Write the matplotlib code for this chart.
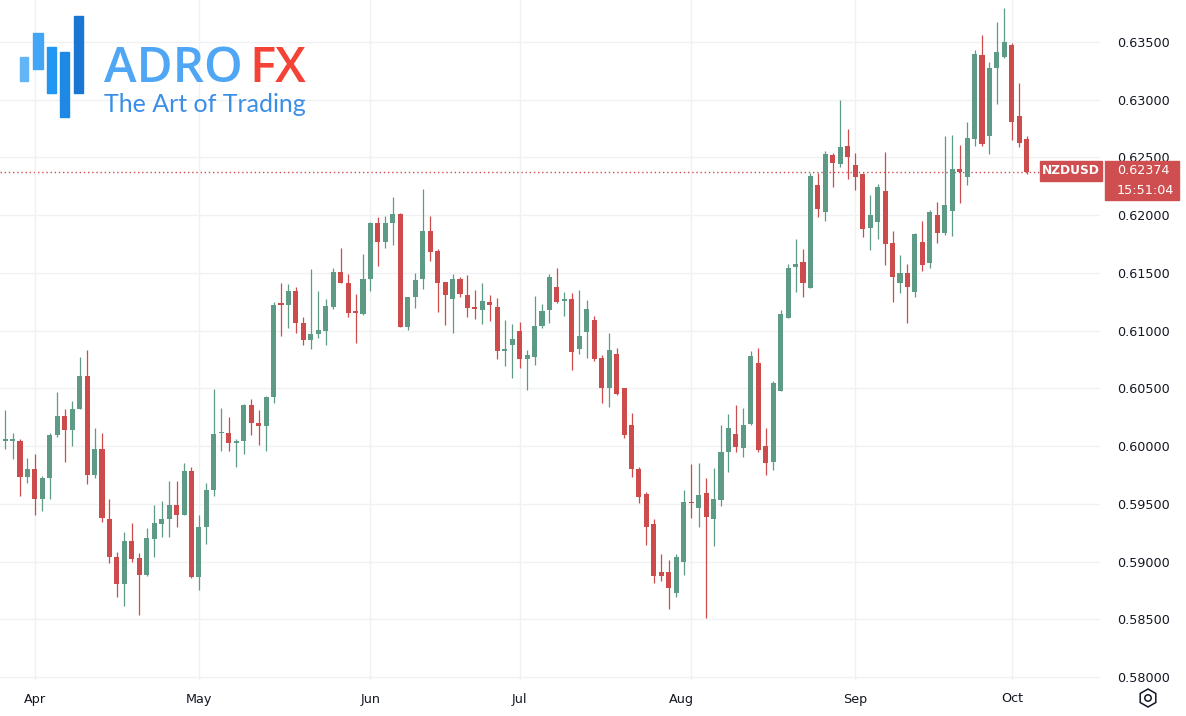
import matplotlib.pyplot as plt
import numpy as np
import pandas as pd
from matplotlib.patches import Rectangle, RegularPolygon, Circle
from matplotlib.transforms import IdentityTransform, ScaledTranslation

# NZDUSD daily candles, 25 Mar 2024 - 3 Oct 2024
dates = pd.bdate_range('2024-03-25', '2024-10-03')

opens = [0.59937, 0.60046, 0.60048, 0.60043, 0.59735, 0.59798, 0.59539, 0.59721, 0.60093, 0.60260,
         0.60139, 0.60321, 0.60607, 0.59747, 0.59975, 0.59368, 0.59039, 0.58808, 0.59175, 0.59030,
         0.58883, 0.59198, 0.59325, 0.59365, 0.59492, 0.59401, 0.59784, 0.58869, 0.59302, 0.59619,
         0.60110, 0.60110, 0.60029, 0.60043, 0.60356, 0.60203, 0.60174, 0.60422, 0.61237, 0.61226,
         0.61346, 0.61063, 0.60919, 0.60971, 0.60999, 0.61207, 0.61505, 0.61412, 0.61161, 0.61144,
         0.61445, 0.61930, 0.61770, 0.61930, 0.62007, 0.61034, 0.61288, 0.61445, 0.61863, 0.61690,
         0.61421, 0.61271, 0.61445, 0.61309, 0.61202, 0.61179, 0.61248, 0.61202, 0.60826, 0.60878,
         0.60997, 0.60757, 0.60774, 0.61040, 0.61179, 0.61375, 0.61259, 0.61271, 0.60838, 0.60991,
         0.61092, 0.60766, 0.60501, 0.60795, 0.60501, 0.60183, 0.59798, 0.59585, 0.59325, 0.58907,
         0.58912, 0.58725, 0.58998, 0.59518, 0.59466, 0.59591, 0.59368, 0.59533, 0.59951, 0.60104,
         0.59981, 0.60191, 0.60722, 0.60001, 0.59864, 0.60480, 0.61107, 0.61548, 0.61595, 0.61372,
         0.62261, 0.62030, 0.62521, 0.62443, 0.62599, 0.62435, 0.62357, 0.61886, 0.61943, 0.62212,
         0.61756, 0.61410, 0.61502, 0.61337, 0.61770, 0.61586, 0.62001, 0.61848, 0.62039, 0.62397,
         0.62333, 0.62657, 0.63387, 0.62686, 0.63277, 0.63367, 0.63474, 0.62859, 0.62657]

highs = [0.60087, 0.60312, 0.60110, 0.60064, 0.59897, 0.59931, 0.59741, 0.60116, 0.60469, 0.60319,
         0.60390, 0.60769, 0.60832, 0.60154, 0.60110, 0.59541, 0.59080, 0.59256, 0.59336, 0.59071,
         0.59290, 0.59487, 0.59524, 0.59697, 0.59700, 0.59850, 0.59821, 0.59403, 0.59683, 0.60494,
         0.60327, 0.60254, 0.60061, 0.60360, 0.60405, 0.60312, 0.60434, 0.61250, 0.61410, 0.61404,
         0.61380, 0.61115, 0.61531, 0.61343, 0.61271, 0.61540, 0.61713, 0.61488, 0.61317, 0.61661,
         0.61938, 0.61987, 0.61993, 0.62160, 0.62016, 0.61294, 0.61502, 0.62224, 0.61993, 0.61704,
         0.61421, 0.61490, 0.61462, 0.61486, 0.61352, 0.61410, 0.61311, 0.61285, 0.61092, 0.61057,
         0.61077, 0.60832, 0.61300, 0.61231, 0.61490, 0.61540, 0.61332, 0.61323, 0.61352, 0.61265,
         0.61127, 0.60789, 0.60982, 0.60847, 0.60501, 0.60284, 0.59821, 0.59605, 0.59365, 0.59065,
         0.59013, 0.59065, 0.59619, 0.59842, 0.59850, 0.59721, 0.59807, 0.60182, 0.60278, 0.60356,
         0.60327, 0.60826, 0.60847, 0.60154, 0.60566, 0.61179, 0.61577, 0.61791, 0.61704, 0.62363,
         0.62363, 0.62558, 0.62541, 0.62998, 0.62744, 0.62536, 0.62363, 0.62175, 0.62270, 0.62550,
         0.61866, 0.61655, 0.61577, 0.61848, 0.61952, 0.62045, 0.62117, 0.62686, 0.62695, 0.62608,
         0.62810, 0.63431, 0.63561, 0.63329, 0.63676, 0.63792, 0.63494, 0.63142, 0.62686]

lows = [0.59897, 0.59972, 0.59885, 0.59570, 0.59683, 0.59403, 0.59440, 0.59539, 0.60076, 0.59864,
        0.60003, 0.60321, 0.59669, 0.59721, 0.59344, 0.58990, 0.58690, 0.58614, 0.58998, 0.58537,
        0.58874, 0.59036, 0.59215, 0.59210, 0.59302, 0.59401, 0.58860, 0.58753, 0.59149, 0.59570,
        0.59960, 0.59960, 0.59821, 0.59931, 0.60096, 0.60009, 0.59960, 0.60370, 0.60953, 0.61020,
        0.60977, 0.60878, 0.60838, 0.60933, 0.60878, 0.61185, 0.61415, 0.61121, 0.60896, 0.61138,
        0.61346, 0.61560, 0.61713, 0.61742, 0.61030, 0.61005, 0.61193, 0.61358, 0.61606, 0.61164,
        0.61049, 0.60977, 0.61288, 0.61121, 0.61098, 0.61057, 0.61086, 0.60751, 0.60694, 0.60587,
        0.60674, 0.60486, 0.60702, 0.61020, 0.61069, 0.61242, 0.61127, 0.60659, 0.60798, 0.60766,
        0.60739, 0.60376, 0.60341, 0.60443, 0.60072, 0.59729, 0.59509, 0.59143, 0.58817, 0.58831,
        0.58586, 0.58690, 0.58883, 0.59381, 0.59299, 0.58507, 0.59137, 0.59484, 0.59778, 0.59951,
        0.59908, 0.60182, 0.59951, 0.59750, 0.59793, 0.60480, 0.61107, 0.61337, 0.61288, 0.61366,
        0.61982, 0.61952, 0.62247, 0.62420, 0.62311, 0.62218, 0.61808, 0.61698, 0.61791, 0.61568,
        0.61250, 0.61323, 0.61069, 0.61288, 0.61516, 0.61543, 0.61762, 0.61828, 0.61820, 0.62108,
        0.62261, 0.62599, 0.62599, 0.62530, 0.62963, 0.63359, 0.62651, 0.62593, 0.62357]

closes = [0.60037, 0.60058, 0.60056, 0.59735, 0.59798, 0.59539, 0.59724, 0.60093, 0.60260, 0.60139,
          0.60324, 0.60607, 0.59747, 0.59977, 0.59374, 0.59042, 0.58808, 0.59175, 0.59021, 0.58883,
          0.59204, 0.59331, 0.59365, 0.59492, 0.59403, 0.59784, 0.58869, 0.59302, 0.59619, 0.60104,
          0.60124, 0.60029, 0.60043, 0.60356, 0.60203, 0.60174, 0.60425, 0.61222, 0.61225, 0.61346,
          0.61063, 0.60919, 0.60971, 0.61005, 0.61213, 0.61505, 0.61415, 0.61155, 0.61155, 0.61445,
          0.61930, 0.61770, 0.61930, 0.62007, 0.61034, 0.61288, 0.61438, 0.61863, 0.61684, 0.61415,
          0.61309, 0.61445, 0.61317, 0.61200, 0.61185, 0.61254, 0.61219, 0.60826, 0.60832, 0.60925,
          0.60757, 0.60789, 0.61040, 0.61170, 0.61462, 0.61250, 0.61265, 0.60818, 0.60953, 0.61190,
          0.60751, 0.60501, 0.60832, 0.60451, 0.60096, 0.59798, 0.59561, 0.59299, 0.58877, 0.58877,
          0.58768, 0.59042, 0.59515, 0.59504, 0.59576, 0.59388, 0.59539, 0.59951, 0.60156, 0.59995,
          0.60182, 0.60780, 0.59966, 0.59850, 0.60544, 0.61144, 0.61540, 0.61577, 0.61410, 0.62339,
          0.62051, 0.62526, 0.62455, 0.62588, 0.62501, 0.62328, 0.61877, 0.62001, 0.62241, 0.61750,
          0.61462, 0.61496, 0.61375, 0.61837, 0.61568, 0.62025, 0.61843, 0.62088, 0.62397, 0.62377,
          0.62666, 0.63396, 0.62617, 0.63277, 0.63411, 0.63503, 0.62810, 0.62628, 0.62374]

price_ticks = [0.580, 0.585, 0.590, 0.595, 0.600, 0.605, 0.610, 0.615, 0.620, 0.625, 0.630, 0.635]
last_price = closes[-1]
countdown = '15:51:04'

UP = '#5d9b87'
DOWN = '#cd4b4b'
W, H = 1186, 716

o = np.array(opens)
h = np.array(highs)
l = np.array(lows)
c = np.array(closes)
x = np.arange(len(o))
col = np.where(c >= o, UP, DOWN)

fig = plt.figure(figsize=(W / 100, H / 100), dpi=100)
ax = fig.add_axes([0, 36 / H, 1100 / W, 680 / H])

ax.vlines(x, l, h, colors=col, lw=0.9, zorder=2)
body = np.maximum(np.abs(c - o), 0.00011)
ax.bar(x, body, bottom=np.minimum(o, c), width=0.68, color=col, zorder=3)

# month ticks on the first trading day of each month
month_start = [i for i in range(1, len(dates)) if dates[i].month != dates[i - 1].month]
ax.set_xticks(month_start)
ax.set_xticklabels([dates[i].strftime('%b') for i in month_start])
ax.set_xlim(0.322, 147.82)
ax.set_ylim(0.579736, 0.638638)
ax.set_yticks(price_ticks)
ax.set_yticklabels([f'{p:.5f}' for p in price_ticks])
ax.yaxis.tick_right()
ax.tick_params(axis='y', length=0, pad=12, labelsize=9.2, labelcolor='#131722')
ax.tick_params(axis='x', length=0, pad=9, labelsize=9.2, labelcolor='#131722')
ax.grid(True, color='#f0f1f4', lw=1, zorder=0)
for s in ax.spines.values():
    s.set_visible(False)
# the Aug label sits a little left of its grid line in the original
for lab in ax.get_xticklabels():
    if lab.get_text() == 'Aug':
        lab.set_transform(lab.get_transform() + ScaledTranslation(-10 / 100, 0, fig.dpi_scale_trans))

# last price line
ax.axhline(last_price, xmax=1040 / 1100, color=DOWN, lw=1, ls=(0, (1, 2)), zorder=1)


def fx(px):
    return px / W


def fy(py):
    return 1 - py / H


fig.add_artist(Rectangle((fx(1040), fy(181)), fx(62), 20 / H, color='#cf4f51',
                         transform=fig.transFigure))
fig.text(fx(1071), fy(171), 'NZDUSD', color='white', fontsize=8.8, ha='center', va='center',
         fontweight='bold')
fig.add_artist(Rectangle((fx(1105), fy(200)), fx(74), 39 / H, color='#cf4f51',
                         transform=fig.transFigure))
fig.text(fx(1117), fy(171), f'{last_price:.5f}', color='white', fontsize=9.2, ha='left', va='center')
fig.text(fx(1117), fy(190), countdown, color='white', fontsize=9.2, ha='left', va='center')

# settings icon bottom right (pixel coordinates)
fig.add_artist(RegularPolygon((1148, H - 698), 6, radius=9, orientation=0,
                              fill=False, ec='#131722', lw=1.1, transform=IdentityTransform()))
fig.add_artist(Circle((1148, H - 698), 3.2, fill=False, ec='#131722', lw=1.1,
                      transform=IdentityTransform()))

# AdroFX logo
bars = [(20, 57, 28, 81, '#64b5f6'), (33, 33, 43, 69, '#42a5f5'), (47, 47, 56, 93, '#2196f3'),
        (60, 52, 69, 117, '#1e88e5'), (74, 16, 83, 93, '#1976d2')]
for x0, y0, x1, y1, cc in bars:
    fig.add_artist(Rectangle((fx(x0), fy(y1)), fx(x1 - x0), (y1 - y0) / H, color=cc,
                             transform=fig.transFigure))
fig.text(fx(104), fy(82), 'ADRO', color='#4fa6f5', fontsize=35.5, fontfamily='Open Sans',
         fontweight='semibold', va='baseline', ha='left')
fig.text(fx(249), fy(82), 'FX', color='#f44336', fontsize=35.5, fontfamily='Open Sans',
         fontweight='semibold', va='baseline', ha='left')
fig.text(fx(104), fy(112), 'The Art of Trading', color='#3b8ee6', fontsize=18,
         fontfamily='Lato', fontweight='normal', va='baseline', ha='left')

fig.savefig('out.png', dpi=100)
